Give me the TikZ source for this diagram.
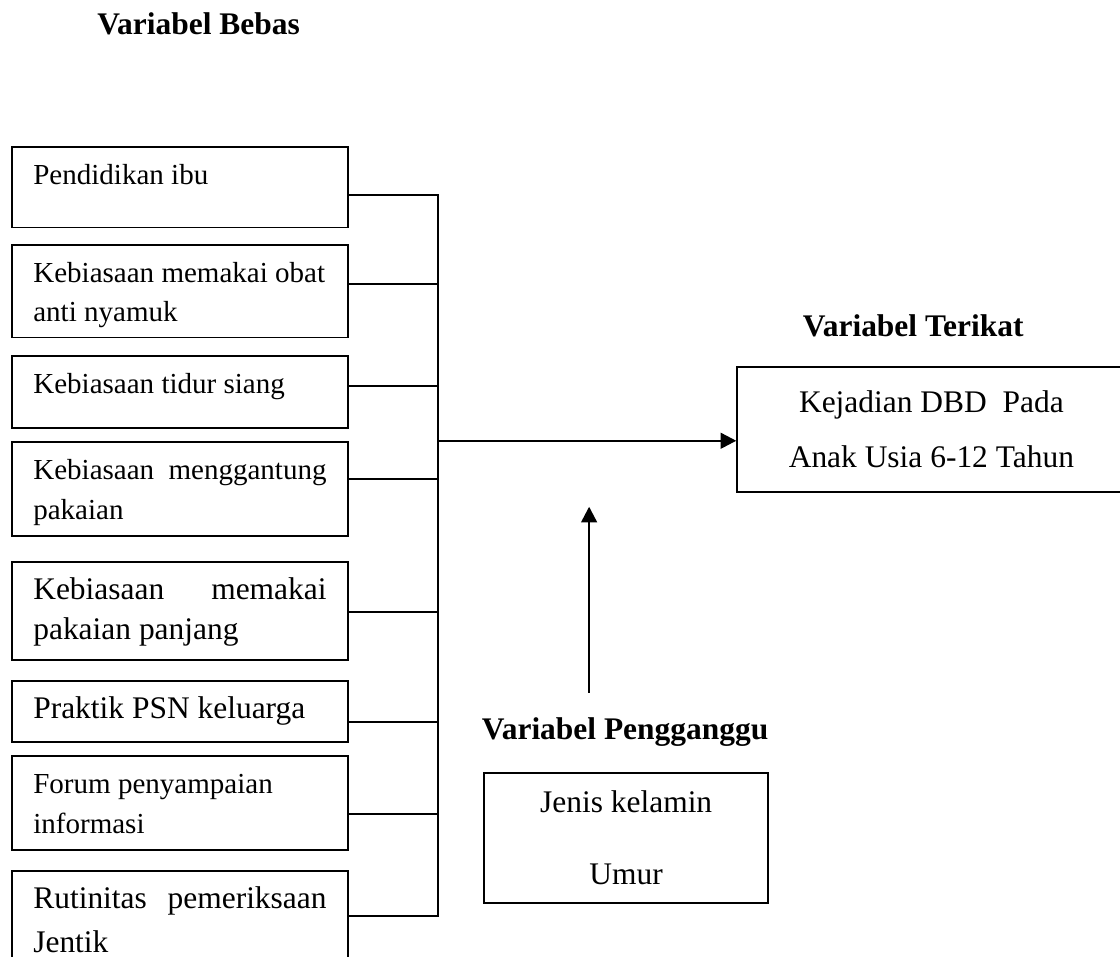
\documentclass[tikz,border=0pt]{standalone}
\usepackage{fontspec}
\setmainfont{Liberation Serif}
\usetikzlibrary{arrows.meta}
\hyphenpenalty=10000
\exhyphenpenalty=10000
\newcommand{\hurufkecil}{\fontsize{12}{16.3}\selectfont}
\newcommand{\hurufbesar}{\fontsize{13}{16.3}\selectfont}
\tikzset{
  >={Triangle[length=6.5pt,width=6.5pt]},
  kotak/.style={draw, line width=0.8pt, anchor=north west, align=justify,
    text width=4.26cm, inner xsep=0.31cm, inner ysep=0pt,
    text height=0.55cm, text depth=#1, font=\hurufkecil},
  kotak/.default=0.8cm,
  hasil/.style={draw, line width=0.8pt, align=center, font=\fontsize{13}{#1}\selectfont},
  hasil/.default=22.7,
  judul/.style={anchor=base, font=\fontsize{13}{15}\selectfont\bfseries},
  garis/.style={line width=0.8pt},
  panah/.style={->, line width=1pt},
}
\begin{document}
\begin{tikzpicture}
    \useasboundingbox (0,0) rectangle (16.27,13.90);
    % Variabel bebas
    \node[judul] (bebas) at (2.884,13.397) {Variabel Bebas};
    \node[kotak=0.625cm] (pendidikan) at (0.160,11.784) {Pendidikan ibu};
    \node[kotak=0.799cm] (obat)       at (0.160,10.360) {Kebiasaan memakai obat\\ anti nyamuk};
    \node[kotak=0.494cm] (tidur)      at (0.160,8.747)  {Kebiasaan tidur siang};
    \node[kotak=0.814cm] (gantung)    at (0.160,7.497)  {Kebiasaan menggantung\linebreak pakaian};
    \node[kotak=0.872cm, font=\hurufbesar] (panjang) at (0.160,5.754) {Kebiasaan memakai\linebreak pakaian panjang};
    \node[kotak=0.334cm, font=\hurufbesar] (psn)     at (0.160,4.025) {Praktik PSN keluarga};
    \node[kotak=0.814cm] (forum)      at (0.160,2.935)  {Forum penyampaian\\ informasi};
    \node[kotak=1.0cm, font=\fontsize{13}{18.2}\selectfont] (jentik) at (0.160,1.264) {Rutinitas pemeriksaan\linebreak Jentik};
    % Variabel terikat dan pengganggu
    \node[judul] (judulterikat) at (13.266,9.009) {Variabel Terikat};
    \node[hasil, minimum width=5.64cm, minimum height=1.82cm] (terikat) at (13.53,7.665) {Kejadian DBD\ \ Pada\\ Anak Usia 6-12 Tahun};
    \node[judul] (judulganggu) at (9.081,3.153) {Variabel Pengganggu};
    \node[hasil=29.8, minimum width=4.13cm, minimum height=1.89cm] (ganggu) at (9.096,1.729) {Jenis kelamin\\ Umur};
    % Titik pada garis tegak
    \coordinate (k1) at (6.364,11.072);
    \coordinate (k2) at (6.364,9.779);
    \coordinate (k3) at (6.364,8.297);
    \coordinate (k4) at (6.364,6.945);
    \coordinate (k5) at (6.364,5.013);
    \coordinate (k6) at (6.364,3.415);
    \coordinate (k7) at (6.364,2.078);
    \coordinate (k8) at (6.364,0.596);
    \coordinate (cabang) at (6.364,7.497);
    \coordinate (pangkal) at (8.558,3.836);
    \coordinate (ujung) at (8.558,6.539);
    % Garis penghubung
    \draw[garis] (pendidikan.east |- k1) -- (k1) -- (k8) -- (jentik.east |- k8);
    \draw[garis] (obat.east |- k2) -- (k2);
    \draw[garis] (tidur.east |- k3) -- (k3);
    \draw[garis] (gantung.east |- k4) -- (k4);
    \draw[garis] (panjang.east |- k5) -- (k5);
    \draw[garis] (psn.east |- k6) -- (k6);
    \draw[garis] (forum.east |- k7) -- (k7);
    \draw[panah] (cabang) -- (terikat.west |- cabang);
    \draw[panah] (pangkal) -- (ujung);
\end{tikzpicture}
\end{document}
